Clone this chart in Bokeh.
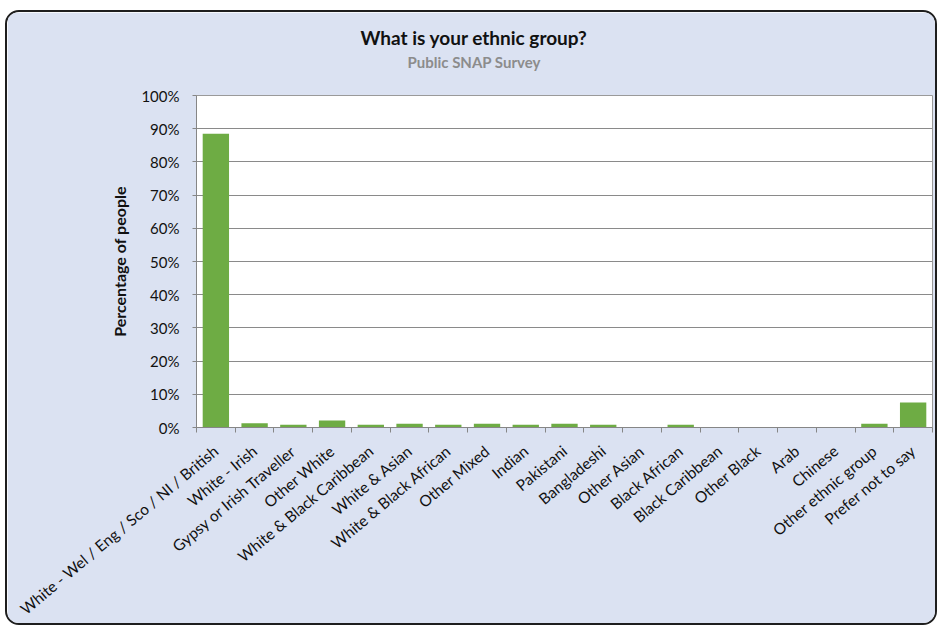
import math
from bokeh.plotting import figure
from bokeh.models import Range1d, FixedTicker, NumeralTickFormatter, Title, ColumnDataSource
from bokeh.embed import file_html
from bokeh.resources import INLINE

# ---- data ----
categories = [
    "White - Wel / Eng / Sco / NI / British",
    "White - Irish",
    "Gypsy or Irish Traveller",
    "Other White",
    "White & Black Caribbean",
    "White & Asian",
    "White & Black African",
    "Other Mixed",
    "Indian",
    "Pakistani",
    "Bangladeshi",
    "Other Asian",
    "Black African",
    "Black Caribbean",
    "Other Black",
    "Arab",
    "Chinese",
    "Other ethnic group",
    "Prefer not to say",
]
percentages = [88.5, 1.3, 0.8, 2.1, 0.8, 1.1, 0.8, 1.1, 0.8, 1.1, 0.8, 0.0, 0.8,
               0.0, 0.0, 0.0, 0.0, 1.1, 7.5]
y_ticks = [0, 10, 20, 30, 40, 50, 60, 70, 80, 90, 100]

title_text = "What is your ethnic group?"
subtitle_text = "Public SNAP Survey"
y_label = "Percentage of people"

FONT = "Lato"
n = len(categories)

src = ColumnDataSource(dict(
    x=list(range(n)),
    top=[v / 100 for v in percentages],
    name=categories,
))

p = figure(
    width=932, height=615,
    output_backend="svg", toolbar_location=None,
    x_range=Range1d(-0.5, n - 0.5), y_range=Range1d(0, 1),
    min_border_left=189, min_border_right=7, min_border_top=83, min_border_bottom=190,
    background_fill_color="white", border_fill_color="#dbe2f2",
    styles={"border": "2px solid #1e1e1e", "border-radius": "14px", "overflow": "hidden",
            "margin-left": "5px", "margin-top": "10px"},
)
p.title.visible = False

p.vbar(x="x", top="top", width=0.68, source=src, fill_color="#6eac44", line_color=None)

# titles (subtitle first so it sits closest to the frame)
p.add_layout(Title(text=subtitle_text, align="left", text_font=FONT, text_font_size="15px",
                   text_font_style="bold", text_color="#8c8c8c", offset=211, standoff=50), "above")
p.add_layout(Title(text=title_text, align="left", text_font=FONT, text_font_size="19px",
                   text_font_style="bold", text_color="#111111", offset=164, standoff=-46), "above")

# x axis
xa = p.xaxis[0]
xa.ticker = FixedTicker(ticks=list(range(n)), minor_ticks=[i - 0.5 for i in range(n + 1)])
xa.major_label_overrides = {i: c for i, c in enumerate(categories)}
xa.major_label_orientation = math.radians(40)
xa.major_tick_line_color = None
xa.minor_tick_in = 0
xa.minor_tick_out = 5
xa.minor_tick_line_color = "#868686"
xa.axis_line_color = "#868686"
xa.major_label_text_font = FONT
xa.major_label_text_font_size = "15.5px"
xa.major_label_text_color = "#111111"
xa.major_label_standoff = 15

# y axis
ya = p.yaxis[0]
ya.ticker = FixedTicker(ticks=[t / 100 for t in y_ticks])
ya.formatter = NumeralTickFormatter(format="0%")
ya.axis_label = y_label
ya.axis_label_text_font = FONT
ya.axis_label_text_font_size = "16px"
ya.axis_label_text_font_style = "bold"
ya.axis_label_text_color = "#111111"
ya.axis_label_standoff = 9
ya.major_label_text_font = FONT
ya.major_label_text_font_size = "15px"
ya.major_label_text_color = "#111111"
ya.major_tick_in = 0
ya.major_tick_out = 4
ya.major_tick_line_color = "#868686"
ya.minor_tick_line_color = None
ya.axis_line_color = "#868686"
ya.major_label_standoff = 13

p.xgrid.visible = False
p.ygrid.ticker = FixedTicker(ticks=[t / 100 for t in y_ticks])
p.ygrid.grid_line_color = "#8a8a8a"
p.outline_line_color = "#9a9a9a"

open("out.html", "w").write(file_html(p, INLINE))
